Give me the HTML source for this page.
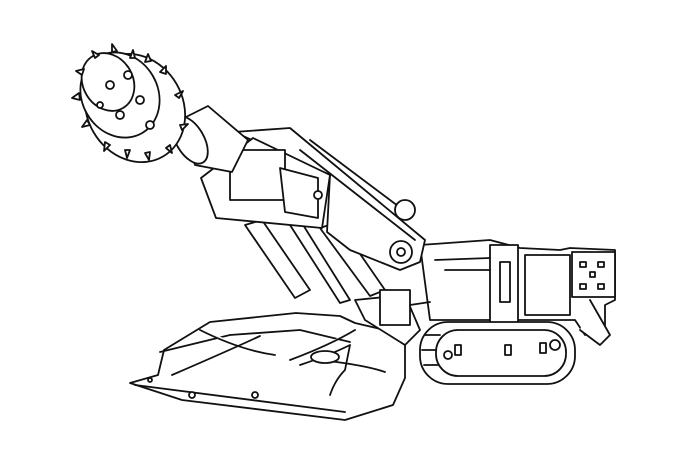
<!DOCTYPE html>
<html><head><meta charset="utf-8"><style>html,body{margin:0;padding:0;background:#fff}svg{display:block}</style></head>
<body>
<svg width="700" height="466" viewBox="0 0 700 466" xmlns="http://www.w3.org/2000/svg" fill="#fff" stroke="#111" stroke-width="1.8" stroke-linejoin="round" stroke-linecap="round">
<!-- body rear -->
<polygon points="420,245 490,240 520,248 560,250 570,248 615,250 615,300 605,305 605,330 585,335 575,320 430,320"/>
<rect x="490" y="245" width="28" height="80"/>
<rect x="500" y="262" width="10" height="40"/>
<rect x="525" y="255" width="45" height="60"/>
<rect x="572" y="252" width="43" height="45"/>
<rect x="580" y="262" width="6" height="5"/><rect x="598" y="262" width="6" height="5"/>
<rect x="590" y="272" width="5" height="5"/><rect x="580" y="284" width="6" height="5"/><rect x="598" y="284" width="6" height="5"/>
<path d="M590,300 L610,335 L600,345 L580,330" />
<line x1="435" y1="260" x2="490" y2="258"/><line x1="445" y1="270" x2="490" y2="270"/>
<!-- track -->
<rect x="420" y="322" width="155" height="62" rx="28"/>
<rect x="436" y="330" width="130" height="46" rx="22"/>
<rect x="455" y="345" width="6" height="10"/><rect x="505" y="345" width="6" height="10"/><rect x="540" y="343" width="6" height="10"/>
<circle cx="448" cy="355" r="4"/><circle cx="555" cy="345" r="5"/>
<line x1="425" y1="335" x2="440" y2="335"/><line x1="422" y1="350" x2="436" y2="350"/><line x1="424" y1="365" x2="438" y2="365"/>
<!-- boom lower cylinders -->
<polygon points="245,225 262,220 310,290 295,298"/>
<polygon points="320,228 338,222 385,290 370,296"/>
<polygon points="290,225 300,220 350,300 340,303"/>
<!-- boom main -->
<polygon points="234,132 290,128 425,240 420,262 400,270 350,250 327,232 330,175"/>
<line x1="300" y1="150" x2="415" y2="240"/>
<line x1="310" y1="140" x2="410" y2="215"/>
<circle cx="405" cy="210" r="10"/>
<polygon points="201,178 253,138 330,175 322,228 216,218"/>
<rect x="230" y="150" width="55" height="50"/>
<polygon points="280,168 318,178 318,218 285,212"/>
<circle cx="401" cy="252" r="11"/><circle cx="401" cy="252" r="4"/>
<circle cx="318" cy="195" r="4"/>
<!-- boom tube -->
<polygon points="180,120 208,106 248,140 232,172 195,165"/>
<ellipse cx="190" cy="140" rx="14" ry="26" transform="rotate(-30 190 140)"/>
<!-- cutter head -->
<g>
<ellipse cx="135" cy="108" rx="48" ry="56" transform="rotate(-30 135 108)"/>
<ellipse cx="120" cy="95" rx="38" ry="44" transform="rotate(-30 120 95)"/>
<ellipse cx="108" cy="82" rx="25" ry="30" transform="rotate(-30 108 82)"/>
<g fill="#fff">
<path d="M82,75 l-6,-4 l8,-2z"/><path d="M95,58 l-3,-7 l7,4z"/><path d="M112,52 l0,-8 l5,7z"/><path d="M130,58 l3,-8 l2,8z"/>
<path d="M80,100 l-8,-2 l7,-5z"/><path d="M90,125 l-8,2 l5,-7z"/><path d="M110,145 l-6,6 l1,-9z"/><path d="M130,150 l-3,8 l-2,-8z"/>
<path d="M150,152 l-1,8 l-4,-7z"/><path d="M170,145 l2,8 l-6,-5z"/><path d="M180,125 l8,-1 l-6,6z"/><path d="M175,95 l8,-4 l-4,7z"/>
<path d="M160,72 l6,-6 l0,8z"/><path d="M145,62 l3,-8 l3,7z"/>
</g>
<circle cx="110" cy="85" r="4"/><circle cx="128" cy="75" r="4"/><circle cx="140" cy="100" r="4"/><circle cx="120" cy="115" r="4"/><circle cx="150" cy="125" r="4"/><circle cx="100" cy="105" r="3"/>
</g>
<!-- shovel -->
<polygon points="130,383 182,400 345,420 393,405 405,378 405,345 385,330 355,323 340,316 296,313 210,322 164,350 158,375"/>
<line x1="135" y1="385" x2="345" y2="412"/>
<path d="M160,352 L230,335 L300,330 L350,342"/>
<path d="M172,375 Q230,350 260,336 M200,330 Q240,350 275,355"/>
<path d="M290,360 Q330,345 355,330 M300,365 Q330,355 350,345 L345,370 Q335,380 330,395 M320,360 Q365,365 385,372"/>
<ellipse cx="325" cy="357" rx="14" ry="6"/>
<circle cx="192" cy="395" r="3"/><circle cx="255" cy="395" r="3"/><circle cx="150" cy="380" r="2"/>
<!-- center mechanism -->
<polygon points="355,300 405,295 420,330 405,345 365,320"/>
<rect x="380" y="290" width="30" height="35"/>
<line x1="410" y1="305" x2="430" y2="302"/>
</svg>
</body></html>
